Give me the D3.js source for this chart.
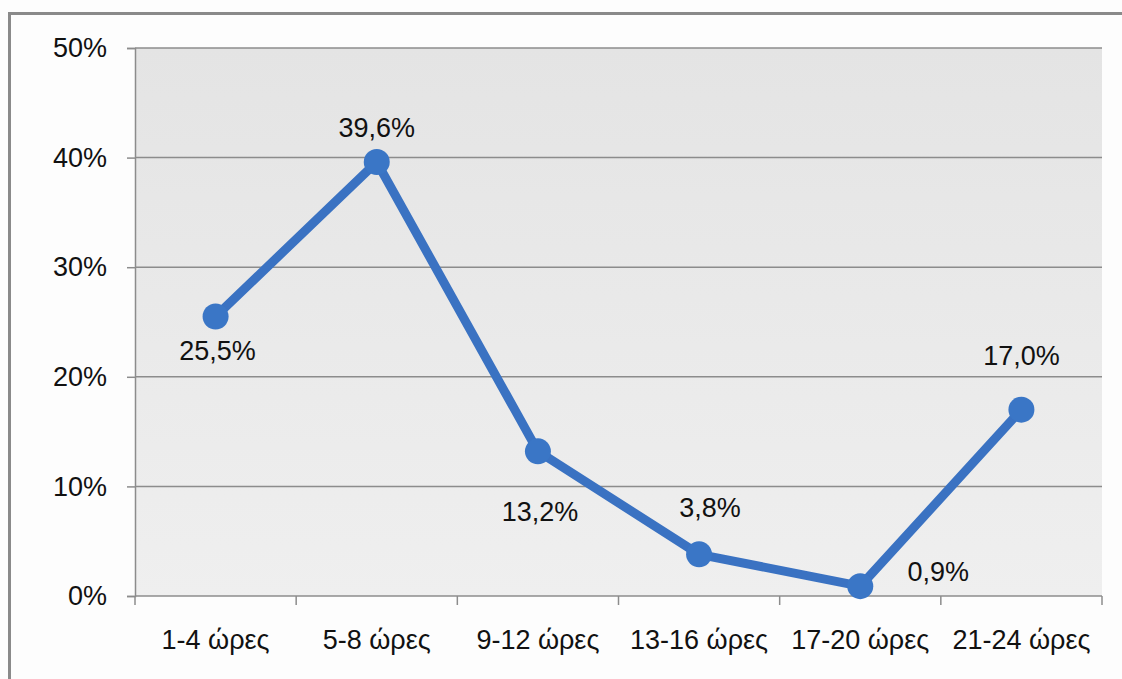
<!DOCTYPE html>
<html><head><meta charset="utf-8">
<script src="https://cdn.jsdelivr.net/npm/d3@7"></script>
<style>html,body{margin:0;padding:0;background:#fff;}svg{display:block;}</style>
</head><body>
<svg id="chart" width="1122" height="679"></svg>
<script>
const categories = ["1-4 ώρες","5-8 ώρες","9-12 ώρες","13-16 ώρες","17-20 ώρες","21-24 ώρες"];
const values = [0.255, 0.396, 0.132, 0.038, 0.009, 0.170];
const valueLabels = ["25,5%","39,6%","13,2%","3,8%","0,9%","17,0%"];
const yTicks = [0, 0.1, 0.2, 0.3, 0.4, 0.5];
const yTickLabels = ["0%","10%","20%","30%","40%","50%"];
const labelOffsets = [[2,34],[0,-34],[2,60],[11,-47],[78,-15],[0,-54]];

(function(){
const svg = d3.select("#chart");
const W = 1122, H = 679;
const pLeft = 135, pRight = 1102, pTop = 48, pBottom = 596;
const font = "'Liberation Sans', Arial, sans-serif";

svg.append("rect").attr("x",0).attr("y",0).attr("width",W).attr("height",H).attr("fill","#fdfdfd");
svg.append("line").attr("x1",9).attr("x2",W).attr("y1",13.5).attr("y2",13.5).attr("stroke","#8a8a8a").attr("stroke-width",3);
svg.append("line").attr("x1",9.5).attr("x2",9.5).attr("y1",12).attr("y2",H).attr("stroke","#8a8a8a").attr("stroke-width",3);

const defs = svg.append("defs");
const grad = defs.append("linearGradient").attr("id","bg").attr("x1","0").attr("y1","0").attr("x2","0").attr("y2","1");
grad.append("stop").attr("offset","0").attr("stop-color","#e4e4e4");
grad.append("stop").attr("offset","1").attr("stop-color","#efefef");

const x = d3.scaleBand().domain(categories).range([pLeft, pRight]).padding(0);
const y = d3.scaleLinear().domain([0, 0.5]).range([pBottom, pTop]);
const cx = d => x(d) + x.bandwidth()/2;

svg.append("rect").attr("x",pLeft).attr("y",pTop).attr("width",pRight-pLeft).attr("height",pBottom-pTop).attr("fill","url(#bg)");

svg.append("g").selectAll("line").data(yTicks.filter(t=>t>0)).join("line")
  .attr("x1",pLeft).attr("x2",pRight).attr("y1",d=>y(d)).attr("y2",d=>y(d))
  .attr("stroke","#8c8c8c").attr("stroke-width",1.5);

const yAxis = d3.axisLeft(y).tickValues(yTicks).tickFormat((d,i)=>yTickLabels[i]).tickSize(8).tickPadding(20);
const gy = svg.append("g").attr("transform",`translate(${pLeft},0)`).call(yAxis);
gy.select(".domain").attr("stroke","#8c8c8c").attr("stroke-width",1.5);
gy.selectAll(".tick line").attr("stroke","#8c8c8c").attr("stroke-width",1.5);
gy.selectAll(".tick text").attr("font-family",font).attr("font-size",27).attr("fill","#111");

const gx = svg.append("g").attr("transform",`translate(0,${pBottom})`);
gx.append("line").attr("x1",pLeft).attr("x2",pRight).attr("y1",0).attr("y2",0).attr("stroke","#8c8c8c").attr("stroke-width",1.5);
const bounds = categories.map(c=>x(c)).concat([x(categories[categories.length-1])+x.bandwidth()]);
gx.selectAll("line.tk").data(bounds).join("line").attr("class","tk")
  .attr("x1",d=>d).attr("x2",d=>d).attr("y1",0).attr("y2",9).attr("stroke","#8c8c8c").attr("stroke-width",1.5);
gx.selectAll("text").data(categories).join("text")
  .attr("x",d=>cx(d)).attr("y",53).attr("text-anchor","middle")
  .attr("font-family",font).attr("font-size",27).attr("fill","#111").text(d=>d);

const pts = categories.map((c,i)=>[cx(c), y(values[i])]);
svg.append("path").attr("d", d3.line()(pts)).attr("fill","none")
  .attr("stroke","#3a72c2").attr("stroke-width",9).attr("stroke-linejoin","round");
svg.append("g").selectAll("circle").data(pts).join("circle")
  .attr("cx",d=>d[0]).attr("cy",d=>d[1]).attr("r",13).attr("fill","#3a76c6");

svg.append("g").selectAll("text").data(categories).join("text")
  .attr("x",(d,i)=>cx(d)+labelOffsets[i][0])
  .attr("y",(d,i)=>y(values[i])+labelOffsets[i][1])
  .attr("dy","0.35em").attr("text-anchor","middle")
  .attr("font-family",font).attr("font-size",27).attr("fill","#111")
  .text((d,i)=>valueLabels[i]);
})();
</script>
</body></html>
